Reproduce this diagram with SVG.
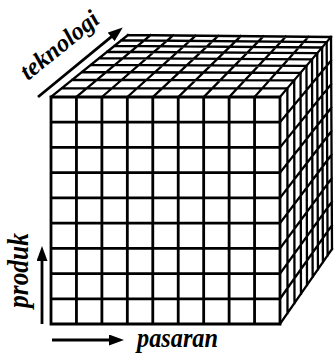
<svg xmlns="http://www.w3.org/2000/svg" width="335" height="356" viewBox="0 0 335 356">
  <defs>
    <style>
      .grid { fill: none; stroke: #000; stroke-linecap: square; stroke-linejoin: miter; }
      .front { stroke-width: 2.8; }
      .side { stroke-width: 2.3; }
      .lbl { font-family: "Liberation Serif", "Times New Roman", serif; font-weight: bold; font-style: italic; fill: #000; }
      .arrow { fill: none; stroke: #000; stroke-width: 2.8; marker-end: url(#head); }
    </style>
    <marker id="head" markerUnits="userSpaceOnUse" markerWidth="15" markerHeight="11" refX="6" refY="5.5" orient="auto">
      <path d="M0,0 L15,5.5 L0,11 Z" fill="#000"/>
    </marker>
  </defs>
  <rect width="335" height="356" fill="#fff"/>

  <g id="cube-top">
    <path class="grid side" d="M62.12,88.05 L287.36,88.34 M72.44,79.74 L294.20,80.30 M82.03,72.01 L300.55,72.82 M90.98,64.81 L306.48,65.85 M99.35,58.07 L312.02,59.33 M107.19,51.76 L317.21,53.22 M114.55,45.83 L322.09,47.48 M121.48,40.25 L326.68,42.08 M128,35 L331,37 M51,97 L128,35 M76.44,97 L150.56,35.22 M101.89,97 L173.11,35.44 M127.33,97 L195.67,35.67 M152.78,97 L218.22,35.89 M178.22,97 L240.78,36.11 M203.67,97 L263.33,36.33 M229.11,97 L285.89,36.56 M254.56,97 L308.44,36.78 M280,97 L331,37"/>
  </g>

  <g id="cube-right">
    <path class="grid side" d="M287.36,88.34 L287.51,313.17 M294.20,80.30 L294.48,303.12 M300.55,72.82 L300.96,293.78 M306.48,65.85 L307.0,285.06 M312.02,59.33 L312.65,276.91 M317.21,53.22 L317.94,269.23 M322.09,47.48 L322.92,262.10 M326.68,42.08 L327.60,255.35 M331,37 L332,249 M280,122.22 L331.11,60.56 M280,147.44 L331.22,84.11 M280,172.67 L331.33,107.67 M280,197.89 L331.44,131.22 M280,223.11 L331.56,154.78 M280,248.33 L331.67,178.33 M280,273.56 L331.78,201.89 M280,298.78 L331.89,225.44 M280,324 L332,249"/>
  </g>

  <g id="cube-front">
    <path class="grid front" d="M51,97 V324 M76.44,97 V324 M101.89,97 V324 M127.33,97 V324 M152.78,97 V324 M178.22,97 V324 M203.67,97 V324 M229.11,97 V324 M254.56,97 V324 M280,97 V324 M51,97 H280 M51,122.22 H280 M51,147.44 H280 M51,172.67 H280 M51,197.89 H280 M51,223.11 H280 M51,248.33 H280 M51,273.56 H280 M51,298.78 H280 M51,324 H280"/>
  </g>

  <g id="connectors">
    <path class="arrow" d="M38,97 L115.8,33.1"/>
    <path class="arrow" d="M42,324 L42,255"/>
    <path class="arrow" d="M52,340 L115,340"/>
  </g>

  <g id="label-teknologi">
    <text class="lbl" font-size="25" transform="translate(28,81) rotate(-39)" textLength="94" lengthAdjust="spacingAndGlyphs">teknologi</text>
  </g>
  <g id="label-produk">
    <text class="lbl" font-size="29" transform="translate(28,308) rotate(-90)" textLength="75" lengthAdjust="spacingAndGlyphs">produk</text>
  </g>
  <g id="label-pasaran">
    <text class="lbl" font-size="28" x="137" y="347" textLength="81" lengthAdjust="spacingAndGlyphs">pasaran</text>
  </g>
</svg>
